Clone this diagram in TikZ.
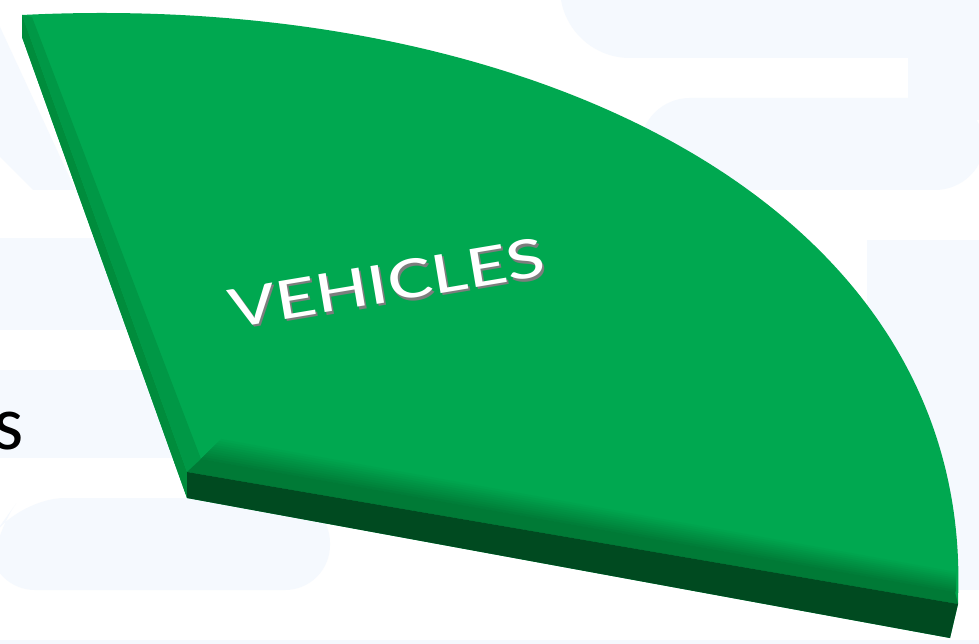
\documentclass[tikz,border=0pt]{standalone}
\usepackage{fontspec}
\setmainfont{Carlito}
\definecolor{faceGreen}{RGB}{0,168,80}
\definecolor{sideGreen}{RGB}{0,140,60}
\definecolor{bevelGreen}{RGB}{0,122,54}
\definecolor{softGreen}{RGB}{0,152,70}
\definecolor{frontGreen}{RGB}{0,74,32}
\definecolor{bgBlue}{RGB}{245,249,254}
\definecolor{shadowGrey}{RGB}{125,125,125}
\begin{document}
\begin{tikzpicture}[x=0.02cm,y=-0.02cm,
  bgband/.style={fill=bgBlue},
  slabtext/.style={font=\fontsize{34}{40}\selectfont,rotate=9.5,xscale=1.4,inner sep=0pt}]
  \useasboundingbox (0,0) rectangle (979,644);
  \clip (0,0) rectangle (979,644);
  \fill[white] (0,0) rectangle (979,644);
  % faint background shapes
  \fill[bgband,rounded corners=1.4cm] (560,-100) rectangle (1100,58);
  \fill[bgband] (908,-100) rectangle (1100,120);
  \fill[bgband,rounded corners=1cm] (640,98) rectangle (985,190);
  \fill[bgband] (867,240) rectangle (1100,590);
  \fill[bgband] (0,27) -- (100,243) -- (100,190) -- (33,190) -- (0,157) -- cycle;
  \fill[bgband] (-10,238) rectangle (200,330);
  \fill[bgband] (-10,370) rectangle (250,458);
  \fill[bgband,rounded corners=0.9cm] (20,498) -- (330,498) -- (330,590) -- (-10,590) -- (-10,540) -- cycle;
  \fill[bgband] (-10,640) rectangle (990,660);
  % slab
  \fill[faceGreen] (22,15) -- (22,37) -- (187,498) -- (950,638) -- (958,604) -- (958,600)
    .. controls (974,200) and (522,-10) .. (22,15) -- cycle;
  \fill[sideGreen] (22,15) -- (22,37) -- (187,498) -- (187,472) -- cycle;
  \fill[softGreen] (22,15) -- (187,472) -- (201,459) -- (32,17) -- cycle;
  \foreach \k in {0,...,10} {
    \pgfmathsetmacro{\d}{22-2*\k}
    \pgfmathsetmacro{\t}{100-9*\k}
    \fill[faceGreen!\t!bevelGreen] (201,459) -- (955,592) -- (956,592-\d) -- (201+\d,459-\d) -- cycle;
  }
  \fill[bevelGreen] (187,472) -- (201,459) -- (955,592) -- (958,604) -- cycle;
  \fill[frontGreen] (187,472) -- (187,498) -- (950,638) -- (958,604) -- cycle;
  % labels
  \node[slabtext,text=shadowGrey] (vehiclesShadow) at (389,285.5) {VEHICLES};
  \node[slabtext,text=white] (vehiclesLabel) at (387,283) {VEHICLES};
  \node[anchor=base east,font=\fontsize{44}{50}\selectfont,inner sep=0pt] (sideS) at (24,450) {s};
\end{tikzpicture}
\end{document}
